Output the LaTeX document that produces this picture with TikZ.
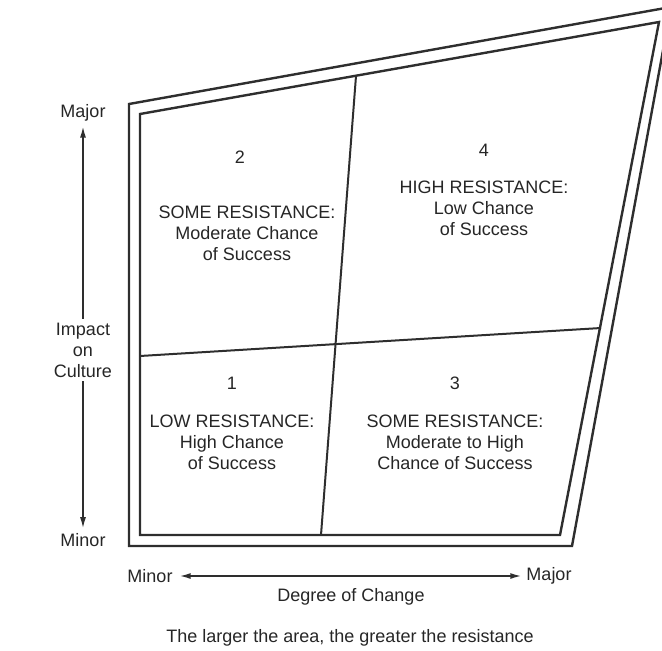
\documentclass[tikz,border=0pt]{standalone}
\usepackage{fontspec}
\setmainfont{Liberation Sans}
\usetikzlibrary{arrows.meta, positioning}

\begin{document}
\begin{tikzpicture}[x=1pt, y=-1pt,
    frame/.style={draw=black!82, line width=2.4pt, line join=miter},
    divider/.style={draw=black!82, line width=2pt},
    arr/.style={black!82, line width=1.5pt},
    lbl/.style={align=center, text=black!85, font=\fontsize{18}{21}\selectfont, inner sep=1pt}
  ]
  \useasboundingbox (0,0) rectangle (662,651);
  \clip (0,0) rectangle (662,651);

  % Outer and inner frame
  \coordinate (otl) at (129,104);
  \coordinate (otr) at (671,7);
  \coordinate (obr) at (572,546);
  \coordinate (obl) at (129,546);
  \coordinate (itl) at (140,114);
  \coordinate (itr) at (659,22);
  \coordinate (ibr) at (560,535);
  \coordinate (ibl) at (140,535);
  \draw[frame] (otl) -- (otr) -- (obr) -- (obl) -- cycle;
  \draw[frame] (itl) -- (itr) -- (ibr) -- (ibl) -- cycle;

  % Dividers
  \coordinate (vtop) at (356,76);
  \coordinate (vbot) at (321,535);
  \coordinate (hleft) at (140,356);
  \coordinate (hright) at (601,328);
  \draw[divider] (vtop) -- (vbot);
  \draw[divider] (hleft) -- (hright);

  % Quadrant 2
  \node[lbl] (n2) at (240,157) {2};
  \node[lbl] (q2) at (247,233) {SOME RESISTANCE:\\Moderate Chance\\of Success};
  % Quadrant 4
  \node[lbl] (n4) at (484,150) {4};
  \node[lbl] (q4) at (484,208) {HIGH RESISTANCE:\\Low Chance\\of Success};
  % Quadrant 1
  \node[lbl] (n1) at (232,383) {1};
  \node[lbl] (q1) at (232,442) {LOW RESISTANCE:\\High Chance\\of Success};
  % Quadrant 3
  \node[lbl] (n3) at (455,383) {3};
  \node[lbl] (q3) at (455,442) {SOME RESISTANCE:\\Moderate to High\\Chance of Success};

  % Vertical axis
  \node[lbl] (vmajor) at (83,113) {Major};
  \node[lbl] (vminor) at (83,540) {Minor};
  \node[lbl, inner sep=4pt] (impact) at (83,350) {Impact\\on\\Culture};
  \draw[arr, -{Latex[length=11pt, width=6pt]}] (impact) -- ([yshift=-4pt]vmajor.south);
  \draw[arr, -{Latex[length=11pt, width=6pt]}] (impact) -- ([yshift=4pt]vminor.north);

  % Horizontal axis
  \node[lbl] (hminor) at (150,576) {Minor};
  \node[lbl] (hmajor) at (549,576) {Major};
  \draw[arr, {Latex[length=11pt, width=6pt]}-{Latex[length=11pt, width=6pt]}] ([xshift=6pt]hminor.east) -- ([xshift=-4pt]hmajor.west);
  \node[lbl] (degree) at (351,597) {Degree of Change};

  \node[lbl] (note) at (350,638) {The larger the area, the greater the resistance};
\end{tikzpicture}
\end{document}
